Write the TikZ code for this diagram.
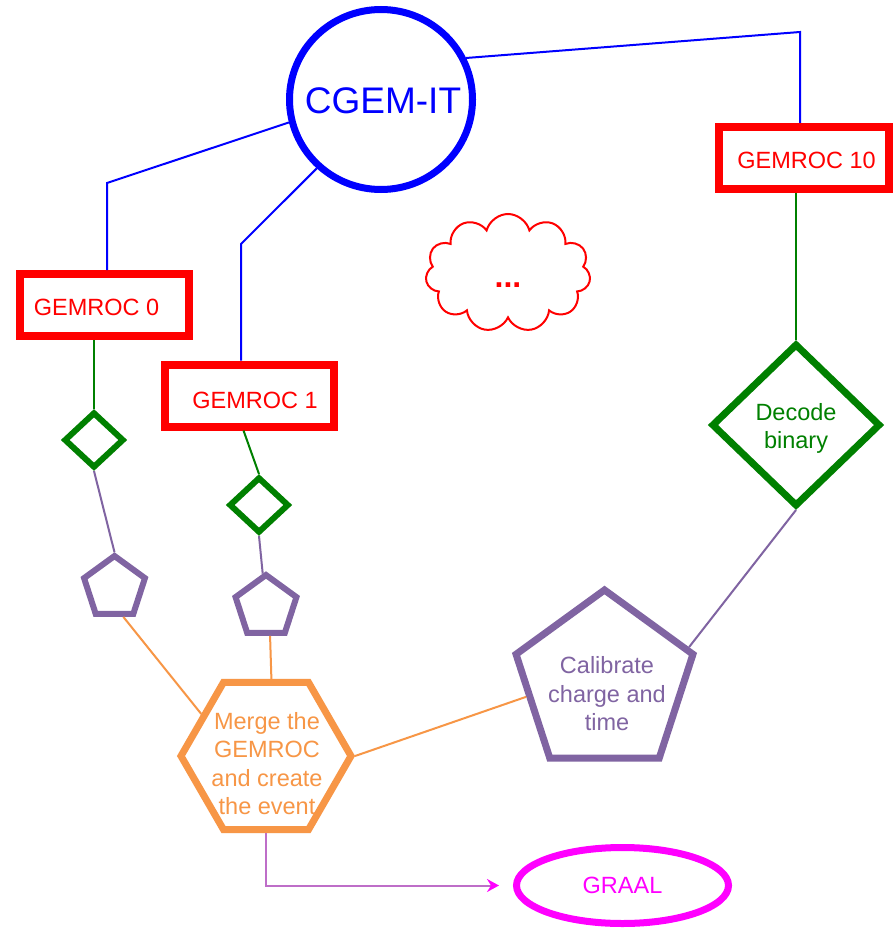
\documentclass[tikz,border=0pt]{standalone}
\usepackage{fontspec}
\setmainfont{Liberation Sans}
\usetikzlibrary{shapes.geometric,shapes.symbols,arrows.meta}
\definecolor{cblue}{RGB}{0,0,255}
\definecolor{cred}{RGB}{255,0,0}
\definecolor{cgreen}{RGB}{0,128,0}
\definecolor{cpurple}{RGB}{128,100,162}
\definecolor{corange}{RGB}{247,150,70}
\definecolor{cmag}{RGB}{255,0,255}
\definecolor{carrow}{RGB}{190,110,200}
\tikzset{
  txt/.style={font=\fontsize{23.5}{28.5}\selectfont, align=center},
  gembox/.style={rectangle, draw=cred, line width=8pt, inner sep=0pt,
    minimum width=169pt, minimum height=62pt},
  gemtext/.style={txt, text=cred},
  sdia/.style={diamond, draw=cgreen, line width=6pt, inner sep=0pt,
    minimum width=60pt, minimum height=56pt},
  spent/.style={regular polygon, regular polygon sides=5, draw=cpurple,
    line width=6pt, inner sep=0pt, minimum size=64pt},
  blueconn/.style={draw=cblue, line width=2pt},
  greenconn/.style={draw=cgreen, line width=2pt},
  purpconn/.style={draw=cpurple, line width=2pt},
  orconn/.style={draw=corange, line width=2pt},
  arrconn/.style={draw=carrow, line width=2pt}
}
\begin{document}
\begin{tikzpicture}[x=1pt,y=-1pt]
\useasboundingbox (0,0) rectangle (894,928);
\fill[white] (0,0) rectangle (894,928);

% main nodes
\node[ellipse, draw=cblue, line width=7pt, inner sep=0pt,
  minimum width=183pt, minimum height=180pt,
  label={[text=cblue, font=\fontsize{37}{44}\selectfont, xshift=2pt, yshift=-1pt]center:CGEM-IT}] (cgem) at (381,99.5) {};

\node[gembox, label={[gemtext, xshift=-8pt, yshift=-2.5pt]center:GEMROC 0}] (g0) at (104.5,305) {};
\node[gembox, label={[gemtext, xshift=5.5pt, yshift=-5pt]center:GEMROC 1}] (g1) at (249.5,395.5) {};
\node[gembox, minimum width=170pt, label={[gemtext, xshift=2.5pt, yshift=-2pt]center:GEMROC 10}] (g10) at (804,158) {};

\node[cloud, draw=cred, line width=2pt, cloud puffs=11, aspect=1.4, inner sep=0pt,
  minimum width=165pt, minimum height=118pt,
  label={[text=cred, font=\fontsize{32}{36}\selectfont\bfseries, yshift=-12pt]center:...}] (cloud) at (508,273) {};

\node[sdia] (d0) at (94,440) {};
\node[sdia] (d1) at (259,505) {};
\node[diamond, draw=cgreen, line width=7pt, inner sep=0pt,
  minimum width=169pt, minimum height=163pt,
  label={[txt, text=cgreen, yshift=-3.5pt]center:Decode\\binary}] (dec) at (796,425) {};

\node[spent] (p0) at (114.5,588) {};
\node[spent] (p1) at (266,607) {};
\node[regular polygon, regular polygon sides=5, draw=cpurple, line width=7pt,
  inner sep=0pt, minimum size=186pt,
  label={[txt, text=cpurple, xshift=2.5pt, yshift=-11pt]center:Calibrate\\charge and\\time}] (cal) at (604.5,683) {};

\node[regular polygon, regular polygon sides=6, draw=corange, line width=7pt,
  inner sep=0pt, minimum size=170pt,
  label={[txt, text=corange, xshift=1pt, yshift=-7.5pt]center:Merge the\\GEMROC\\and create\\the event}] (hex) at (266,756) {};

\node[ellipse, draw=cmag, line width=7pt, inner sep=0pt,
  minimum width=212pt, minimum height=76pt, txt, text=cmag] (graal) at (622.5,885.5) {GRAAL};

% bend points
\coordinate (c10) at (800,32);
\coordinate (c0) at (107,183);
\coordinate (c1) at (241,244);

% blue connectors
\draw[blueconn] (cgem.26) -- (c10) -- (c10 |- g10.north);
\draw[blueconn] (cgem.194) -- (c0) -- (c0 |- g0.north);
\draw[blueconn] (cgem.227) -- (c1) -- (c1 |- g1.north);

% green connectors
\draw[greenconn] (d0.north |- g0.south) -- (d0.north);
\draw[greenconn] ([xshift=-6pt]g1.south) -- (d1.north);
\draw[greenconn] (dec.north |- g10.south) -- (dec.north);

% purple connectors
\draw[purpconn] (d0.south) -- (p0.corner 1);
\draw[purpconn] (d1.south) -- (p1);
\draw[purpconn] (dec.south) -- (cal.23);

% orange connectors
\draw[orconn] (p0.-73) -- (hex.147);
\draw[orconn] (p1.-82) -- (hex.86);
\draw[orconn] (hex.east) -- (cal.190);

% arrow to GRAAL
\draw[arrconn, -{Stealth[length=12pt, width=13pt, inset=4pt, color=cmag]}]
  (hex.south) |- ([xshift=-14pt]graal.west);
\end{tikzpicture}
\end{document}
